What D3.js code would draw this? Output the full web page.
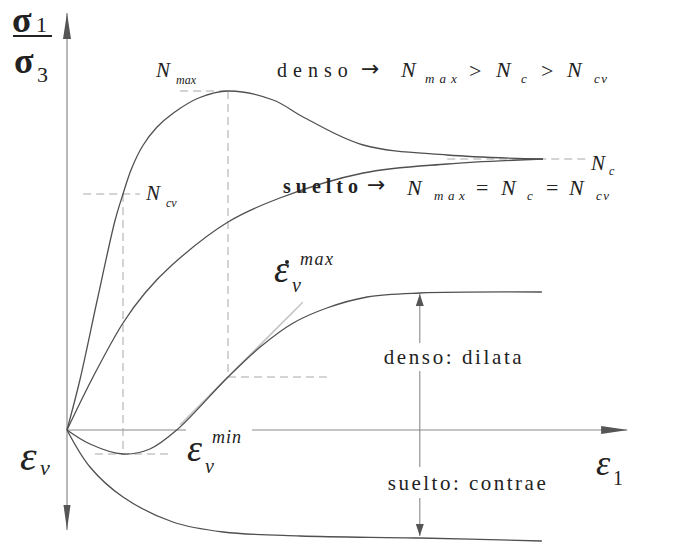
<!DOCTYPE html>
<html>
<head>
<meta charset="utf-8">
<script src="https://cdn.jsdelivr.net/npm/d3@7"></script>
<style>
  html, body { margin: 0; padding: 0; background: #fff; }
  svg { display: block; font-family: "Liberation Serif", "Times New Roman", serif; }
  text { fill: #222; }
</style>
</head>
<body>
<svg id="chart" width="673" height="546"></svg>
<script>
// Axial strain ε1 (arbitrary units) vs stress ratio σ1/σ3 (upper half)
// and volumetric strain εv (lower half, contraction downwards).

// Dense sand: stress ratio
const denseStress = [
  [0, 0], [0.23, 1.0], [0.54, 2.6], [0.86, 4.2], [1.0, 4.72], [1.15, 5.22],
  [1.35, 5.68], [1.6, 6.05], [1.9, 6.34], [2.35, 6.64], [2.875, 6.78],
  [3.68, 6.6], [4.25, 6.24], [5.29, 5.7], [6.79, 5.5], [8.5, 5.42]
];
// Loose sand: stress ratio
const looseStress = [
  [0, 0], [0.46, 1.05], [1.0, 2.14], [1.4, 2.75], [1.875, 3.3],
  [2.875, 4.16], [3.8, 4.64], [5.29, 5.14], [6.79, 5.32], [8.5, 5.42]
];
// Dense sand: volumetric strain (dilates)
const denseVol = [
  [0, 0], [0.41, -0.28], [1.0, -0.48], [1.48, -0.38], [1.96, 0],
  [2.875, 1.06], [3.45, 1.66], [4.04, 2.14], [4.64, 2.44], [5.36, 2.66],
  [6.3, 2.74], [8.48, 2.76]
];
// Loose sand: volumetric strain (contracts)
const looseVol = [
  [0, 0], [0.41, -0.74], [1.0, -1.34], [1.89, -1.84], [2.79, -2.04],
  [4.16, -2.12], [6.3, -2.16], [8.48, -2.22]
];

// Characteristic points
const Ncv = [1.0, 4.72];          // constant-volume state (εv minimum)
const Nmax = [2.875, 6.78];       // peak stress ratio (max dilatancy rate)
const Nc = 5.42;                  // critical state ratio
const epsVmin = [1.0, -0.48];
const epsVrateMax = [2.875, 1.06];
const rateSlope = 1.12;           // dεv/dε1 at its maximum
const tangentSpan = [2.02, 4.21];
const splitX = 6.3;               // ε1 where dilata / contrae is marked

const svg = d3.select("#chart");
const x = d3.scaleLinear().domain([0, 10]).range([67, 627]);
const y = d3.scaleLinear().domain([-2.3, 8.3]).range([545, 15]);

const line = d3.line().x(d => x(d[0])).y(d => y(d[1])).curve(d3.curveCatmullRom.alpha(0.5));
const seg = d3.line().x(d => x(d[0])).y(d => y(d[1]));

const AXIS = "#8a8a8a", CURVE = "#505050", DASH = "#a8a8a8", HEAD = "#555";

// arrowhead helper: tip at (tx,ty), pointing along (ux,uy)
function head(tx, ty, ux, uy, len, w, fill) {
  const px = -uy, py = ux;
  const pts = [
    [tx, ty],
    [tx - ux * len + px * w / 2, ty - uy * len + py * w / 2],
    [tx - ux * len - px * w / 2, ty - uy * len - py * w / 2]
  ];
  svg.append("path").attr("d", "M" + pts.map(p => p.join(",")).join("L") + "Z")
    .attr("fill", fill);
}

// dashed guide lines
const guides = [
  [[0.29, Ncv[1]], [1.3, Ncv[1]]],
  [[Ncv[0], Ncv[1]], [Ncv[0], epsVmin[1]]],
  [[0.5, epsVmin[1]], [1.89, epsVmin[1]]],
  [[2.02, Nmax[1]], [Nmax[0], Nmax[1]]],
  [[Nmax[0], Nmax[1]], [Nmax[0], epsVrateMax[1]]],
  [[epsVrateMax[0], epsVrateMax[1]], [4.64, epsVrateMax[1]]],
  [[6.79, Nc], [9.34, Nc]]
];
svg.append("g").selectAll("path").data(guides).join("path")
  .attr("d", seg).attr("fill", "none").attr("stroke", DASH)
  .attr("stroke-width", 1).attr("stroke-dasharray", "8,5");

// axes
svg.append("path").attr("d", seg([[0, 8.34], [0, -2.0]]))
  .attr("stroke", AXIS).attr("stroke-width", 1.2).attr("fill", "none");
svg.append("path").attr("d", seg([[0, 0], [10.0, 0]]))
  .attr("stroke", AXIS).attr("stroke-width", 1.2).attr("fill", "none");
head(x(0), y(8.34), 0, -1, 26, 8, HEAD);
head(x(0), y(-2.0), 0, 1, 25, 7, HEAD);
head(x(10.02), y(0), 1, 0, 27, 8, HEAD);

// tangent at the maximum dilatancy rate
const tan = tangentSpan.map(t => [t, epsVrateMax[1] + rateSlope * (t - epsVrateMax[0])]);
svg.append("path").attr("d", seg(tan)).attr("stroke", "#c4c4c4")
  .attr("stroke-width", 1.6).attr("fill", "none");

// curves
[denseStress, looseStress, denseVol, looseVol].forEach(s => {
  svg.append("path").attr("d", line(s)).attr("fill", "none")
    .attr("stroke", CURVE).attr("stroke-width", 1.3);
});

// dilata / contrae double arrow
svg.append("path").attr("d", seg([[splitX, 2.72], [splitX, -2.12]]))
  .attr("stroke", AXIS).attr("stroke-width", 1.1);
head(x(splitX), y(2.72), 0, -1, 12, 8, HEAD);
head(x(splitX), y(-2.12), 0, 1, 12, 8, HEAD);

// ---- text ----
function txt(px, py, s, o = {}) {
  const t = svg.append("text").attr("x", px).attr("y", py).text(s)
    .attr("font-family", o.family || "'Liberation Serif', 'Times New Roman', serif")
    .attr("font-size", o.size || 20);
  if (o.italic) t.attr("font-style", "italic");
  if (o.bold) t.attr("font-weight", "bold");
  if (o.ls) t.attr("letter-spacing", o.ls);
  if (o.anchor) t.attr("text-anchor", o.anchor);
  return t;
}
function bgRect(x0, y0, w, h) {
  svg.append("rect").attr("x", x0).attr("y", y0).attr("width", w).attr("height", h)
    .attr("fill", "#fff");
}
const ARROW_FONT = "'DejaVu Sans', sans-serif";

// σ1 / σ3
txt(12, 32, "σ", { size: 36, bold: true });
txt(36, 32, "1", { size: 22 });
svg.append("line").attr("x1", 13).attr("x2", 52).attr("y1", 36).attr("y2", 36)
  .attr("stroke", "#222").attr("stroke-width", 2);
txt(14, 73, "σ", { size: 36, bold: true });
txt(37, 82, "3", { size: 22 });

// εv, ε1
txt(20, 470, "ε", { size: 42, italic: true });
txt(40, 475, "v", { size: 22, italic: true });
txt(596, 475, "ε", { size: 36, italic: true });
txt(613, 485, "1", { size: 20 });

// εv min (with a gap in the axis behind it)
bgRect(186, 425, 66, 10);
txt(187, 461, "ε", { size: 38, italic: true });
txt(205, 473, "v", { size: 20, italic: true });
txt(212, 443, "min", { size: 18, italic: true, ls: 1 });

// εv rate max
txt(274, 282, "ε", { size: 38, italic: true });
svg.append("circle").attr("cx", 287).attr("cy", 262).attr("r", 2).attr("fill", "#222");
txt(292, 292, "v", { size: 20, italic: true });
txt(300, 265, "max", { size: 18, italic: true, ls: 1.5 });

// N labels on the curves
txt(156, 77, "N", { size: 21, italic: true });
txt(176, 84, "max", { size: 12, italic: true });
txt(146, 200, "N", { size: 21, italic: true });
txt(166, 207, "cv", { size: 12, italic: true });
txt(591, 170, "N", { size: 21, italic: true });
txt(609, 175, "c", { size: 12, italic: true });

// denso → Nmax > Nc > Ncv
txt(277, 77, "denso", { size: 20, ls: 6 });
txt(361, 76, "→", { size: 22, family: ARROW_FONT });
txt(401, 77, "N", { size: 22, italic: true });
txt(425, 83, "max", { size: 13, italic: true, ls: 5 });
txt(469, 78, ">", { size: 22 });
txt(496, 77, "N", { size: 22, italic: true });
txt(521, 83, "c", { size: 13, italic: true });
txt(541, 78, ">", { size: 22 });
txt(567, 77, "N", { size: 22, italic: true });
txt(594, 83, "cv", { size: 13, italic: true, ls: 1.5 });

// suelto → Nmax = Nc = Ncv
txt(283, 193, "suelto", { size: 20, ls: 5, bold: true });
txt(367, 192, "→", { size: 22, family: ARROW_FONT });
txt(407, 195, "N", { size: 22, italic: true });
txt(434, 200, "max", { size: 13, italic: true, ls: 4.5 });
txt(476, 195, "=", { size: 22 });
txt(501, 195, "N", { size: 22, italic: true });
txt(527, 200, "c", { size: 13, italic: true });
txt(546, 195, "=", { size: 22 });
txt(569, 195, "N", { size: 22, italic: true });
txt(596, 200, "cv", { size: 13, italic: true, ls: 1.5 });

// dilata / contrae labels over the double arrow
bgRect(378, 343, 152, 28);
txt(454, 364, "denso: dilata", { size: 21, ls: 2.6, anchor: "middle" });
bgRect(378, 467, 180, 31);
txt(468, 490, "suelto: contrae", { size: 21, ls: 2.5, anchor: "middle" });
</script>
</body>
</html>
